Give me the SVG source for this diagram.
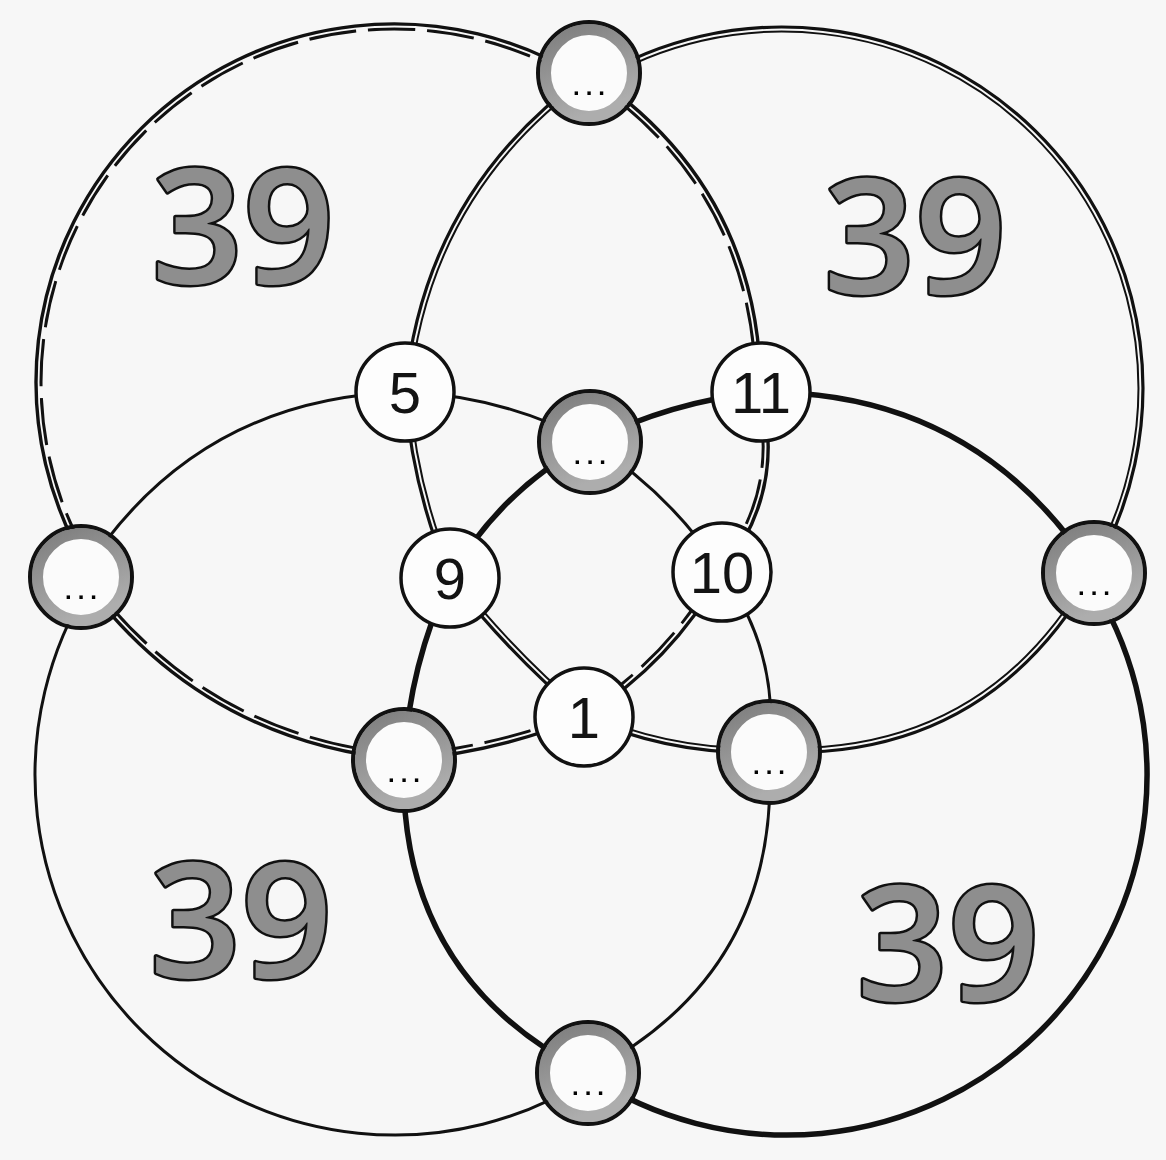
<svg xmlns="http://www.w3.org/2000/svg" width="1166" height="1160" viewBox="0 0 1166 1160">
<defs>
<style>
.ln{fill:none;stroke:#111;stroke-linejoin:round}
.tl{stroke-width:3.4}
.tr{stroke-width:3.2}
.br{stroke-width:5.5}
.bl{stroke-width:3}
.big{font-family:"Open Sans","Liberation Sans",Arial,sans-serif;font-weight:600;font-size:160px;fill:#8e8e8e;stroke:#111;stroke-width:5;paint-order:stroke;text-anchor:middle;stroke-linejoin:round}
.wn circle{fill:#fdfdfd;stroke:#111;stroke-width:3.5}
.num{font-family:"Liberation Sans",Arial,sans-serif;font-size:58px;fill:#111;text-anchor:middle;opacity:0.99}
.gn .ring{fill:#fbfbfb;stroke:url(#ringg);stroke-width:11}
.gn .edge{fill:none;stroke:#111;stroke-width:4}
.dots{font-family:"Liberation Sans",Arial,sans-serif;font-weight:bold;font-size:24px;fill:#000;text-anchor:middle;letter-spacing:6px;opacity:0.99}
</style>
<linearGradient id="ringg" x1="0" y1="0" x2="0.4" y2="1">
<stop offset="0" stop-color="#7e7e7e"/>
<stop offset="1" stop-color="#adadad"/>
</linearGradient>
<path id="pTL" d="M585.1 79.2 A358 358 0 0 0 90.2 571.3 L81 577 Q201.1 741.6 404 760 Q497.2 752.1 584 717 Q671.8 662.4 722 572 Q786.4 491.7 761 392 Q759.6 186.9 589 73 Z"/>
<path id="pTR" d="M593.4 80.2 A361 361 0 0 1 1092.5 572.1 L1094 573 Q986.4 762.4 769 752 Q672.4 756.1 584 717 Q509.8 654.4 450 578 Q412 488.8 405 392 Q424.3 190.5 589 73 Z"/>
<path id="pBR" d="M1087.7 577.1 A360 360 0 0 1 587 1074.4 L588 1073 Q396 975.3 404 760 Q409.5 664.6 450 578 Q500.5 489.9 590 442 Q671 401.6 761 392 Q977.2 391.1 1094 573 Z"/>
<path id="pBL" d="M90.5 583 A360 360 0 0 0 590.7 1077.2 L588 1073 Q783 971.4 769 752 Q780.3 652.9 722 572 Q670 492.8 590 442 Q503.2 395.8 405 392 Q193.4 397.7 81 577 Z"/>
<mask id="mTL" maskUnits="userSpaceOnUse" x="0" y="0" width="1166" height="1160">
<use href="#pTL" fill="#fff" stroke="#000" stroke-width="7"/>
</mask>
<mask id="mTR" maskUnits="userSpaceOnUse" x="0" y="0" width="1166" height="1160">
<use href="#pTR" fill="#fff" stroke="#000" stroke-width="7"/>
</mask>
</defs>
<rect width="1166" height="1160" fill="#f7f7f7"/>

<g id="labels">
<text class="big" x="243" y="283">39</text>
<text class="big" x="915" y="293">39</text>
<text class="big" x="241" y="977">39</text>
<text class="big" x="948" y="1000">39</text>
</g>

<g id="connectors">
<use href="#pBL" class="ln bl"/>
<use href="#pBR" class="ln br"/>
<use href="#pTR" class="ln tr"/>
<use href="#pTR" class="ln" stroke-width="11" mask="url(#mTR)"/>
<use href="#pTL" class="ln tl"/>
<use href="#pTL" class="ln" stroke-width="13" stroke-dasharray="48 12" mask="url(#mTL)"/>
</g>

<g id="node-top" class="gn"><circle class="ring" cx="589" cy="73" r="43.5"/><circle class="edge" cx="589" cy="73" r="51"/><text class="dots" x="592" y="95">...</text></g>
<g id="node-left" class="gn"><circle class="ring" cx="81" cy="577" r="43.5"/><circle class="edge" cx="81" cy="577" r="51"/><text class="dots" x="84" y="599">...</text></g>
<g id="node-right" class="gn"><circle class="ring" cx="1094" cy="573" r="43.5"/><circle class="edge" cx="1094" cy="573" r="51"/><text class="dots" x="1097" y="595">...</text></g>
<g id="node-bottom" class="gn"><circle class="ring" cx="588" cy="1073" r="43.5"/><circle class="edge" cx="588" cy="1073" r="51"/><text class="dots" x="591" y="1095">...</text></g>
<g id="node-center" class="gn"><circle class="ring" cx="590" cy="442" r="43.5"/><circle class="edge" cx="590" cy="442" r="51"/><text class="dots" x="593" y="464">...</text></g>
<g id="node-lowleft" class="gn"><circle class="ring" cx="404" cy="760" r="43.5"/><circle class="edge" cx="404" cy="760" r="51"/><text class="dots" x="407" y="782">...</text></g>
<g id="node-lowright" class="gn"><circle class="ring" cx="769" cy="752" r="43.5"/><circle class="edge" cx="769" cy="752" r="51"/><text class="dots" x="772" y="774">...</text></g>

<g id="node-5" class="wn"><circle cx="405" cy="392" r="49"/><text class="num" x="405" y="413">5</text></g>
<g id="node-11" class="wn"><circle cx="761" cy="392" r="49"/><text class="num" x="761" y="413">11</text></g>
<g id="node-9" class="wn"><circle cx="450" cy="578" r="49"/><text class="num" x="450" y="599">9</text></g>
<g id="node-10" class="wn"><circle cx="722" cy="572" r="49"/><text class="num" x="722" y="593">10</text></g>
<g id="node-1" class="wn"><circle cx="584" cy="717" r="49"/><text class="num" x="584" y="738">1</text></g>
</svg>
